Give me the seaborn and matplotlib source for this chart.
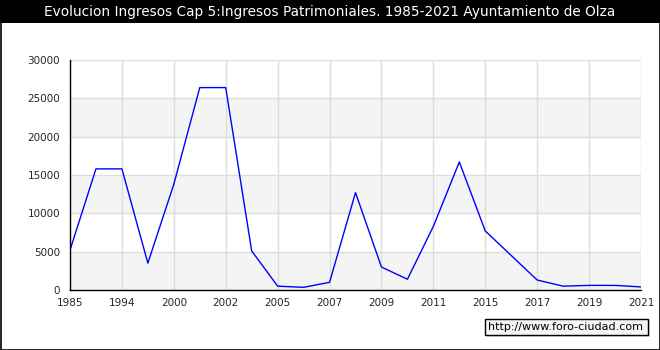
import matplotlib
matplotlib.use("Agg")
import matplotlib.pyplot as plt
import seaborn as sns
import pandas as pd
from matplotlib.patches import Rectangle
from matplotlib.ticker import MultipleLocator

# ---- data ----
years = ["1985", "1993", "1994", "1999", "2000", "2001", "2002", "2004", "2005", "2006",
         "2007", "2008", "2009", "2010", "2011", "2013", "2015", "2016", "2017", "2018",
         "2019", "2020", "2021"]
values = [5200, 15800, 15800, 3500, 13800, 26400, 26400, 5100, 500, 350,
          1000, 12700, 3000, 1400, 8300, 16700, 7700, 4500, 1300, 500,
          600, 600, 400]
shown_labels = ["1985", "1994", "2000", "2002", "2005", "2007", "2009", "2011",
                "2015", "2017", "2019", "2021"]
title = "Evolucion Ingresos Cap 5:Ingresos Patrimoniales. 1985-2021 Ayuntamiento de Olza"
watermark = "http://www.foro-ciudad.com"

df = pd.DataFrame({"pos": list(range(len(years))), "year": years, "value": values})

sns.set_style("white")
plt.rcParams["font.family"] = ["DejaVu Sans"]

fig = plt.figure(figsize=(6.6, 3.5), dpi=100)
W, H = 660, 350
ax = fig.add_axes([70 / W, 1 - 290 / H, (641 - 70) / W, (290 - 60) / H])

# alternating bands
for lo in range(0, 30000, 10000):
    ax.axhspan(lo, lo + 5000, color="#f4f4f4", zorder=0, lw=0)

sns.lineplot(data=df, x="pos", y="value", color="#0000ff", linewidth=1, ax=ax, zorder=3)

ax.set_xlim(0, len(years) - 1)
ax.set_ylim(0, 30000)
tick_pos = [years.index(y) for y in shown_labels]
ax.set_xticks(tick_pos)
ax.set_xticklabels(shown_labels)
ax.yaxis.set_major_locator(MultipleLocator(5000))
ax.yaxis.set_minor_locator(MultipleLocator(1000))
ax.set_xlabel("")
ax.set_ylabel("")

ax.grid(True, which="major", color="#dddddd", linewidth=1, zorder=1)
ax.set_axisbelow(True)
for s in ["top", "right"]:
    ax.spines[s].set_visible(False)
for s in ["left", "bottom"]:
    ax.spines[s].set_color("black")
    ax.spines[s].set_linewidth(1)
    ax.spines[s].set_zorder(4)

ax.tick_params(axis="both", which="major", direction="in", length=4, width=1,
               color="black", labelsize=7.5)
ax.tick_params(axis="y", which="minor", direction="in", length=3, width=1, color="black")
ax.tick_params(axis="x", which="minor", length=0)
ax.tick_params(axis="y", pad=7)
ax.tick_params(axis="x", pad=6)

# title bar
fig.patches.append(Rectangle((0, 1 - 23 / H), 1, 23 / H, transform=fig.transFigure,
                             facecolor="black", edgecolor="none", zorder=0))
fig.text(0.5, 1 - 12 / H, title, color="white", fontsize=9.8, ha="center", va="center")

# outer border
fig.patches.append(Rectangle((0.5 / W, 0.5 / H), 1 - 1 / W, 1 - 1 / H, transform=fig.transFigure,
                             facecolor="none", edgecolor="black", linewidth=1.2, zorder=5))

# watermark box
fig.patches.append(Rectangle((487 / W, 1 - 337 / H), 163 / W, 16 / H, transform=fig.transFigure,
                             facecolor="#dddddd", edgecolor="none", zorder=5))
fig.patches.append(Rectangle((485 / W, 1 - 335 / H), 163 / W, 16 / H, transform=fig.transFigure,
                             facecolor="#f5f5f5", edgecolor="black", linewidth=1, zorder=6))
fig.text(488 / W, 1 - 327 / H, watermark, fontsize=8, ha="left", va="center", zorder=7,
         color="black")

fig.savefig("out.png", dpi=100)
